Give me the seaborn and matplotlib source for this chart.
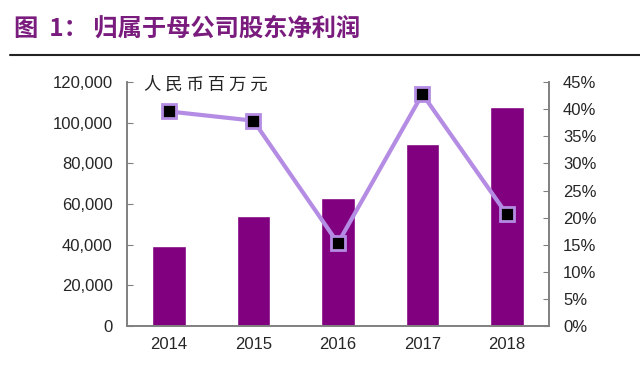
import numpy as np
import pandas as pd
import seaborn as sns
import matplotlib.pyplot as plt
from matplotlib.ticker import FuncFormatter, FixedLocator

# 数据
years = ["2014", "2015", "2016", "2017", "2018"]
profit = [39400, 54300, 62800, 89400, 107600]   # 人民币百万元
growth = [39.6, 37.9, 15.3, 42.8, 20.6]         # %

bar_color = "#800080"
line_color = "#B58CE3"
axis_color = "#808080"

sns.set_style("white")
plt.rcParams['font.family'] = ['Liberation Sans', 'Noto Sans CJK SC', 'DejaVu Sans']

fig = plt.figure(figsize=(6.4, 3.77), dpi=100)
ax = fig.add_axes([0.198, 0.135, 0.66, 0.647])

df = pd.DataFrame({"year": years, "profit": profit, "growth": growth})
sns.barplot(data=df, x="year", y="profit", color=bar_color, width=0.4,
            saturation=1, ax=ax)
ax.set_xlim(-0.5, 4.5)
ax.set_ylim(0, 120000)
ax.set_yticks(np.arange(0, 120001, 20000))
ax.yaxis.set_major_formatter(FuncFormatter(lambda v, p: f"{int(v):,}"))
ax.set_xlabel("")
ax.set_ylabel("")

# 类别之间的刻度
ax.xaxis.set_minor_locator(FixedLocator([0.5, 1.5, 2.5, 3.5]))
ax.tick_params(axis="x", which="major", length=0, labelsize=12, pad=8)
ax.tick_params(axis="x", which="minor", direction="in", length=4, color=axis_color)
ax.tick_params(axis="y", direction="in", length=4, color=axis_color,
               labelsize=12, pad=10, left=True)

ax2 = ax.twinx()
x_pos = np.arange(len(years))
sns.lineplot(x=x_pos, y=growth, ax=ax2, color=line_color, linewidth=3,
             marker="s", markersize=10, markerfacecolor="black",
             markeredgecolor=line_color, markeredgewidth=2)
ax2.set_ylim(0, 45)
ax2.set_yticks(np.arange(0, 46, 5))
ax2.yaxis.set_major_formatter(FuncFormatter(lambda v, p: f"{int(v)}%"))
ax2.tick_params(axis="y", direction="in", length=4, color=axis_color,
                labelsize=12, pad=10, right=True)
ax2.set_ylabel("")

for a in (ax, ax2):
    a.spines["top"].set_visible(False)
    for s in ("left", "right", "bottom"):
        a.spines[s].set_color(axis_color)
        a.spines[s].set_linewidth(1.2)

ax.text(0.04, 0.99, "人 民 币 百 万 元", transform=ax.transAxes, fontsize=12.5,
        family=['Noto Sans CJK SC'], va="center", ha="left", color="#222222")

# 标题
fig.text(0.022, 0.925, "图  1： 归属于母公司股东净利润", fontsize=17.5,
         fontweight="bold", color="#7A1C7E", va="center", ha="left",
         family=['Noto Sans CJK SC', 'DejaVu Sans'])
fig.add_artist(plt.Line2D([0.015, 1.0], [0.855, 0.855], color="#222222",
                          linewidth=1.5, transform=fig.transFigure))

fig.savefig("out.png", dpi=100)
